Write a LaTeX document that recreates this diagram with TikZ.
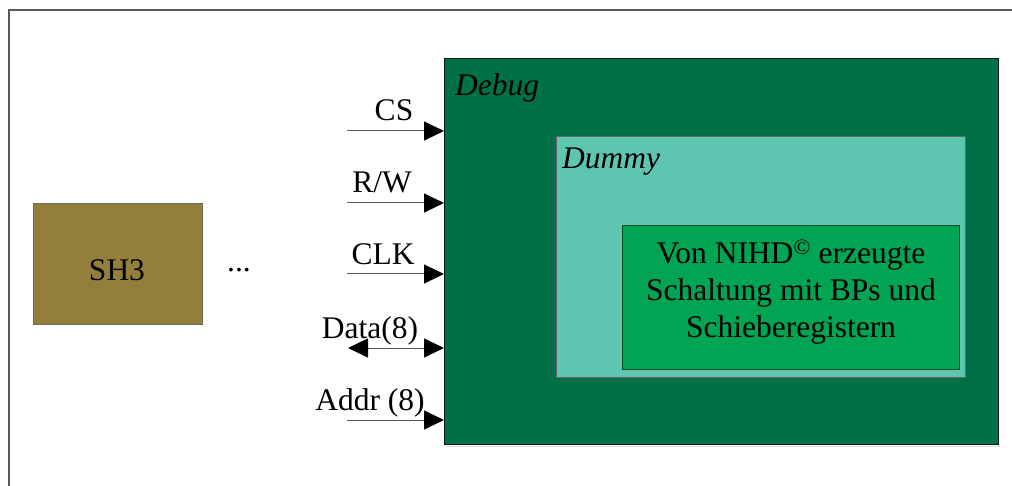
\documentclass[tikz,border=0pt]{standalone}
\usepackage{fontspec}
\setmainfont{Liberation Serif}
\usetikzlibrary{arrows.meta}
\definecolor{debugfill}{RGB}{0,112,70}
\definecolor{dummyfill}{RGB}{94,197,176}
\definecolor{nihdfill}{RGB}{0,164,82}
\definecolor{cpufill}{RGB}{148,127,58}
\definecolor{framegray}{RGB}{90,90,90}
\definecolor{wiregray}{RGB}{85,85,85}
\tikzset{
  block/.style={draw=#1, line width=1pt, inner sep=0pt, anchor=north west},
  big/.style={font=\fontsize{31.5}{37}\selectfont},
  bigit/.style={font=\fontsize{31.5}{37}\selectfont\itshape},
  sig/.style={big, anchor=base},
  headtip/.tip={Triangle[length=20pt,width=19pt,color=black]},
  wire/.style={draw=wiregray, line width=1pt, -headtip},
  biwire/.style={draw=wiregray, line width=1pt, headtip-headtip},
}
\begin{document}
\begin{tikzpicture}[x=1pt,y=-1pt]
\useasboundingbox (0,0) rectangle (1012,486);
% outer frame
\draw[framegray, line width=1.2pt] (9,486) -- (9,10) -- (1012,10);

% nested blocks
\node[block=black!80!debugfill, fill=debugfill, minimum width=554pt, minimum height=386pt] (debug) at (444,58) {};
\draw[black!15, line width=1pt] (debug.south west) ++(1,1.5) -- ++(554,0);
\node[block=black!60, fill=dummyfill, minimum width=409pt, minimum height=241pt] (dummy) at (556,136) {};
\node[block=black!55!nihdfill, fill=nihdfill, minimum width=337pt, minimum height=144pt] (nihd) at (622,225) {};
\node[block=black!60, fill=cpufill, minimum width=169pt, minimum height=121pt] (sh3) at (33,203) {};

% block titles
\node[bigit, anchor=base west, inner sep=0pt] (debugtitle) at (455,96) {Debug};
\node[bigit, anchor=base west, inner sep=0pt] (dummytitle) at (562,169) {Dummy};
\node[big, align=center, inner sep=0pt] (nihdtext) at ([yshift=5pt]nihd.center)
  {Von NIHD\textsuperscript{\textcopyright} erzeugte\\Schaltung mit BPs und\\Schieberegistern};
\node[sig, inner sep=0pt] (sh3text) at (117,281) {SH3};
\node[sig, inner sep=0pt] (dots) at (239,272) {...};

% signal labels
\node[sig, inner sep=0pt] (lcs)   at (394,121) {CS};
\node[sig, inner sep=0pt] (lrw)   at (382,193) {R/W};
\node[sig, inner sep=0pt] (lclk)  at (383,265) {CLK};
\node[sig, inner sep=0pt] (ldata) at (370,338) {Data(8)};
\node[sig, inner sep=0pt] (laddr) at (370,410) {Addr (8)};

% wire start points
\coordinate (scs)   at (347,131);
\coordinate (srw)   at (347,203);
\coordinate (sclk)  at (347,274);
\coordinate (sdata) at (348,348);
\coordinate (saddr) at (347,420);

% signal wires into the Debug block
\draw[wire]   (scs)   -- (scs -| debug.west);
\draw[wire]   (srw)   -- (srw -| debug.west);
\draw[wire]   (sclk)  -- (sclk -| debug.west);
\draw[biwire] (sdata) -- (sdata -| debug.west);
\draw[wire]   (saddr) -- (saddr -| debug.west);
\end{tikzpicture}
\end{document}
